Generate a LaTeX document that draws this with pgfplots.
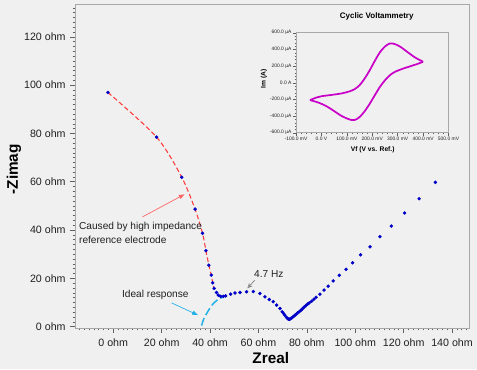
\documentclass[border=0pt]{standalone}
\usepackage{fontspec}
\setmainfont{Liberation Sans}
\usepackage{pgfplots}
\pgfplotsset{compat=1.18}
\usetikzlibrary{arrows.meta}
\definecolor{bg}{HTML}{F0F0F0}
\definecolor{framegray}{HTML}{A8A8A8}
\definecolor{tickgray}{HTML}{606060}
\definecolor{textdark}{HTML}{202020}
\definecolor{ptblue}{HTML}{0000C8}
\definecolor{fitred}{HTML}{FF3B3B}
\definecolor{idealblue}{HTML}{1EB0E6}
\definecolor{cvmag}{HTML}{C800C8}
\begin{document}
\begin{tikzpicture}
\fill[bg] (0pt,0pt) rectangle (357.75pt,276.75pt);
\useasboundingbox (0pt,0pt) rectangle (357.75pt,276.75pt);
\begin{axis}[
  scale only axis, width=295.5pt, height=243pt,
  at={(56.25pt,30.75pt)}, anchor=south west,
  xmin=-15.8, xmax=147, ymin=-0.5, ymax=133.6,
  axis line style={framegray, line width=0.75pt},
  axis background/.style={fill=bg},
  xtick={0,20,...,140},
  xticklabels={0 ohm,20 ohm,40 ohm,60 ohm,80 ohm,100 ohm,120 ohm,140 ohm},
  ytick={0,20,...,120},
  yticklabels={0 ohm,20 ohm,40 ohm,60 ohm,80 ohm,100 ohm,120 ohm},
  minor xtick={-14,-12,...,146},
  minor ytick={0,2,...,132},
  tick align=outside, xtick pos=bottom, ytick pos=left,
  major tick length=3.5pt, minor tick length=1.8pt,
  tick style={tickgray, line width=0.5pt},
  ticklabel style={font=\fontsize{8}{9}\selectfont, text=textdark},
  xticklabel style={yshift=-1pt},
  xlabel={Zreal}, ylabel={-Zimag},
  label style={font=\bfseries\fontsize{11.5}{12}\selectfont, text=black},
  xlabel style={at={(axis description cs:0.497,-0.0926)}, anchor=center},
  ylabel style={at={(axis description cs:-0.155,0.49)}, anchor=center},
  clip=false,
]
% red dashed fit (high impedance reference)
\addplot[fitred, line width=0.8pt, dash pattern=on 3.5pt off 2pt, smooth]
 coordinates {(-2.2,97) (17.9,78.5) (28.3,61.9) (33.8,48.7) (36.9,38.7) (38.3,31.5) (39.5,25.5) (40.5,21.4) (41.1,18.2) (41.5,16.5)};
% ideal response arc
\addplot[idealblue, line width=1.1pt, dash pattern=on 6pt off 2.5pt, smooth]
 coordinates {(36.5,0.5) (37.3,3) (38.6,5.5) (40,7.8) (41.5,9.8) (43.5,11.4) (45.5,12.4)};
% measured points
\addplot[only marks, mark=*, mark size=1.1pt, ptblue, mark options={draw=ptblue, fill=ptblue}]
 coordinates {(-2.2,97) (17.9,78.5) (28.3,61.9) (33.8,48.7) (36.9,38.7) (38.3,31.5) (39.5,25.5) (40.5,21.4) (41.1,18.2) (41.7,15.9) (42.7,14.2) (43.4,13.1) (44.4,12.6) (45.5,12.6) (46.4,12.8) (48.5,13.5) (50.3,14.0) (52.4,14.2) (55.1,14.5) (57.9,14.6) (60.6,13.8) (62.7,12.4) (64.5,11.3) (66.1,10.4) (67.5,9.0) (68.9,7.6) (69.8,6.2) (70.4,5.5) (70.9,4.8) (71.6,3.9) (72.0,3.5) (72.3,3.2) (72.7,3.1) (73.0,3.2) (73.5,3.5) (74.0,3.9) (74.5,4.3) (75.1,4.8) (75.7,5.3) (76.2,5.8) (76.9,6.3) (77.6,6.9) (78.2,7.5) (78.9,8.2) (79.6,8.8) (80.3,9.4) (81.0,9.9) (82.0,10.6) (82.9,11.4) (83.8,12.2) (85.4,13.5) (87.1,15.2) (88.8,16.8) (90.9,19.0) (93.4,21.3) (96.2,23.8) (98.9,26.5) (102.2,29.8) (106.1,33.1) (110.2,37.3) (114.9,41.7) (120.4,47.1) (126.4,53.0) (133.1,59.8)};
% annotations
\node[anchor=west, align=left, font=\fontsize{7.6}{10.5}\selectfont, text=textdark, inner sep=0pt] at (axis cs:-14.2,38.8) {Caused by high impedance\\reference electrode};
\draw[fitred!80, line width=0.5pt, -{Latex[length=4.5pt,width=3.5pt]}] (axis cs:12.1,45.5) -- (axis cs:29.6,54.9);
\node[font=\fontsize{7.6}{9}\selectfont, text=textdark, inner sep=0pt] at (axis cs:17.4,13.1) {Ideal response};
\draw[idealblue, line width=0.5pt, -{Latex[length=4.5pt,width=3.5pt]}] (axis cs:24.1,9.9) -- (axis cs:35.1,4.8);
\node[font=\fontsize{7.6}{9}\selectfont, text=textdark, inner sep=0pt] at (axis cs:64.3,21.7) {4.7 Hz};
\draw[gray, line width=0.5pt, -{Stealth[length=4pt,width=3.5pt,open]}] (axis cs:58.5,19.3) -- (axis cs:55.4,15.9);
\end{axis}
% inset
\begin{axis}[
  scale only axis, width=114.4pt, height=75pt,
  at={(222pt,177.2pt)}, anchor=south west,
  xmin=-100, xmax=500, ymin=-600, ymax=600,
  axis line style={framegray, line width=0.6pt},
  axis background/.style={fill=bg},
  xtick={-100,0,...,500},
  xticklabels={-100.0 mV,0.0 V,100.0 mV,200.0 mV,300.0 mV,400.0 mV,500.0 mV},
  ytick={-600,-400,...,600},
  yticklabels={-600.0 µA,-400.0 µA,-200.0 µA,0.0 A,200.0 µA,400.0 µA,600.0 µA},
  minor x tick num=4, minor y tick num=4,
  tick align=outside, xtick pos=bottom, ytick pos=left,
  major tick length=2.2pt, minor tick length=1.1pt,
  tick style={tickgray, line width=0.35pt},
  ticklabel style={font=\fontsize{3.7}{4}\selectfont, text=textdark, inner sep=1pt},
  title={Cyclic Voltammetry},
  title style={font=\bfseries\fontsize{6}{7}\selectfont, at={(axis description cs:0.529,1.08)}, anchor=center},
  xlabel={Vf (V vs. Ref.)}, ylabel={Im (A)},
  label style={font=\bfseries\fontsize{5}{6}\selectfont},
  xlabel style={at={(axis description cs:0.503,-0.173)}, anchor=center},
  ylabel style={at={(axis description cs:-0.21,0.537)}, anchor=center},
]
\addplot[cvmag, line width=1.3pt, smooth] coordinates {(-45,-208) (-20,-178) (0,-162) (40,-146) (80,-128) (110,-104) (130,-78) (150,-30) (170,50) (190,150) (210,262) (230,365) (250,435) (270,472) (290,462) (310,432) (340,365) (370,300) (400,252)};
\addplot[cvmag, line width=1.3pt, smooth] coordinates {(400,252) (380,228) (350,198) (320,168) (290,132) (270,92) (250,30) (230,-50) (210,-150) (190,-252) (170,-342) (150,-412) (130,-448) (110,-440) (80,-400) (50,-340) (20,-282) (-10,-240) (-45,-208)};
\end{axis}
\end{tikzpicture}
\end{document}
